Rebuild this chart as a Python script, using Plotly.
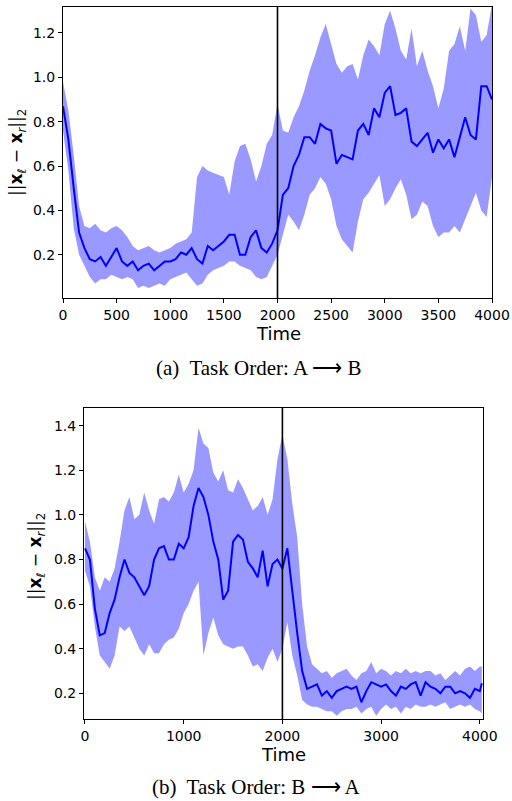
import plotly.graph_objects as go

# ---------------- data ----------------
t_a = list(range(0, 4001, 50))
mean_a = [0.87, 0.72, 0.50, 0.30, 0.23, 0.18, 0.17, 0.19, 0.15, 0.19,
          0.23, 0.17, 0.15, 0.17, 0.13, 0.15, 0.16, 0.13, 0.15, 0.17,
          0.17, 0.18, 0.21, 0.20, 0.23, 0.18, 0.16, 0.24, 0.22, 0.24,
          0.26, 0.29, 0.29, 0.20, 0.20, 0.28, 0.31, 0.23, 0.21, 0.25,
          0.31, 0.47, 0.50, 0.60, 0.65, 0.73, 0.73, 0.70, 0.79, 0.77,
          0.76, 0.61, 0.65, 0.64, 0.63, 0.76, 0.79, 0.74, 0.86, 0.82,
          0.93, 0.96, 0.83, 0.84, 0.86, 0.71, 0.69, 0.72, 0.75, 0.66,
          0.72, 0.68, 0.72, 0.64, 0.73, 0.82, 0.74, 0.72, 0.96, 0.96,
          0.90]
upper_a = [0.98, 0.85, 0.65, 0.42, 0.33, 0.32, 0.34, 0.31, 0.30, 0.32,
           0.33, 0.31, 0.28, 0.24, 0.22, 0.23, 0.24, 0.22, 0.21, 0.22,
           0.23, 0.25, 0.26, 0.27, 0.30, 0.55, 0.60, 0.58, 0.57, 0.56,
           0.55, 0.47, 0.62, 0.69, 0.70, 0.63, 0.53, 0.60, 0.70, 0.74,
           0.88, 0.76, 0.75, 0.82, 0.87, 0.94, 1.03, 1.10, 1.18, 1.24,
           1.15, 1.06, 1.02, 1.05, 1.06, 0.99, 1.10, 1.17, 1.14, 1.10,
           1.24, 1.30, 1.22, 1.12, 1.08, 1.22, 1.05, 1.12, 1.03, 0.96,
           0.86, 0.95, 1.12, 1.15, 1.23, 1.12, 1.31, 1.28, 1.16, 1.19,
           1.33]
lower_a = [0.76, 0.58, 0.32, 0.20, 0.15, 0.10, 0.07, 0.09, 0.09, 0.11,
           0.10, 0.09, 0.10, 0.09, 0.05, 0.06, 0.05, 0.06, 0.07, 0.06,
           0.09, 0.10, 0.11, 0.12, 0.09, 0.06, 0.07, 0.11, 0.13, 0.14,
           0.15, 0.17, 0.17, 0.15, 0.14, 0.13, 0.10, 0.09, 0.10, 0.15,
           0.20, 0.29, 0.38, 0.35, 0.31, 0.38, 0.47, 0.50, 0.55, 0.52,
           0.45, 0.33, 0.27, 0.24, 0.21, 0.35, 0.45, 0.48, 0.52, 0.56,
           0.42, 0.45, 0.50, 0.54, 0.47, 0.36, 0.38, 0.44, 0.42, 0.33,
           0.28, 0.30, 0.30, 0.33, 0.30, 0.36, 0.42, 0.48, 0.40, 0.37,
           0.55]

t_b = list(range(0, 4001, 50)) + [4020]
mean_b = [0.85, 0.80, 0.58, 0.46, 0.47, 0.56, 0.62, 0.72, 0.80, 0.74,
          0.72, 0.68, 0.64, 0.68, 0.80, 0.85, 0.86, 0.80, 0.80, 0.87,
          0.85, 0.90, 1.04, 1.12, 1.08, 1.00, 0.88, 0.80, 0.62, 0.66,
          0.88, 0.91, 0.89, 0.79, 0.76, 0.72, 0.84, 0.68, 0.78, 0.80,
          0.76, 0.85, 0.65, 0.47, 0.30, 0.22, 0.23, 0.24, 0.19, 0.21,
          0.18, 0.21, 0.22, 0.23, 0.22, 0.23, 0.16, 0.21, 0.25, 0.24,
          0.23, 0.24, 0.21, 0.19, 0.23, 0.22, 0.24, 0.25, 0.19, 0.25,
          0.23, 0.22, 0.20, 0.23, 0.23, 0.20, 0.21, 0.20, 0.18, 0.22,
          0.21, 0.245]
upper_b = [0.97, 0.88, 0.72, 0.66, 0.72, 0.70, 0.76, 0.88, 1.02, 1.08,
           0.98, 1.00, 1.10, 1.02, 0.96, 1.07, 1.08, 1.06, 1.10, 1.18,
           1.10, 1.14, 1.20, 1.39, 1.32, 1.30, 1.19, 1.15, 1.20, 1.11,
           1.10, 1.16, 1.12, 1.07, 1.02, 1.04, 1.08, 1.00, 1.07, 1.25,
           1.36, 1.25, 1.05, 0.90, 0.60, 0.41, 0.33, 0.31, 0.29, 0.30,
           0.27, 0.29, 0.30, 0.31, 0.28, 0.26, 0.29, 0.30, 0.34, 0.29,
           0.31, 0.30, 0.28, 0.30, 0.29, 0.31, 0.29, 0.30, 0.29, 0.30,
           0.30, 0.28, 0.29, 0.26, 0.28, 0.30, 0.28, 0.31, 0.32, 0.30,
           0.32, 0.32]
lower_b = [0.75, 0.68, 0.50, 0.37, 0.34, 0.31, 0.37, 0.50, 0.48, 0.50,
           0.45, 0.40, 0.37, 0.42, 0.38, 0.38, 0.42, 0.44, 0.45, 0.49,
           0.56, 0.60, 0.66, 0.70, 0.37, 0.47, 0.54, 0.46, 0.42, 0.41,
           0.40, 0.41, 0.41, 0.37, 0.32, 0.33, 0.30, 0.36, 0.40, 0.34,
           0.40, 0.52, 0.37, 0.28, 0.17, 0.15, 0.14, 0.14, 0.13, 0.12,
           0.12, 0.10, 0.12, 0.13, 0.13, 0.14, 0.11, 0.13, 0.14, 0.10,
           0.13, 0.15, 0.13, 0.14, 0.11, 0.14, 0.13, 0.15, 0.14, 0.14,
           0.15, 0.14, 0.15, 0.16, 0.13, 0.14, 0.15, 0.14, 0.15, 0.13,
           0.12, 0.11]

switch_time = 2000
ticks_a = [0, 500, 1000, 1500, 2000, 2500, 3000, 3500, 4000]
ticks_b = [0, 1000, 2000, 3000, 4000]
yticks_a = [0.2, 0.4, 0.6, 0.8, 1.0, 1.2]
yticks_b = [0.2, 0.4, 0.6, 0.8, 1.0, 1.2, 1.4]
ytitle = "||<b>x</b><sub>ℓ</sub> − <b>x</b><sub><i>r</i></sub>||<sub>2</sub>"
captions = ["(a)  Task Order: A ⟶ B", "(b)  Task Order: B ⟶ A"]

# ---------------- figure ----------------
W, H = 512, 801
BAND = "rgba(0,0,255,0.4)"
LINE = "#0000ff"
fig = go.Figure()

def add_panel(t, lo, hi, mu, xa, ya):
    fig.add_trace(go.Scatter(x=t, y=lo, mode="lines", line=dict(width=0),
                             hoverinfo="skip", showlegend=False, xaxis=xa, yaxis=ya))
    fig.add_trace(go.Scatter(x=t, y=hi, mode="lines", line=dict(width=0),
                             fill="tonexty", fillcolor=BAND,
                             hoverinfo="skip", showlegend=False, xaxis=xa, yaxis=ya))
    fig.add_trace(go.Scatter(x=t, y=mu, mode="lines", line=dict(color=LINE, width=2),
                             showlegend=False, xaxis=xa, yaxis=ya))

add_panel(t_a, lower_a, upper_a, mean_a, "x", "y")
add_panel(t_b, lower_b, upper_b, mean_b, "x2", "y2")

def px_x(p):
    return p / W

def px_y(p):
    return 1 - p / H

tickfont = dict(family="DejaVu Sans", size=14, color="black")
axis_common = dict(showgrid=False, zeroline=False, showline=True, linecolor="black",
                   linewidth=1, mirror=True, ticks="outside", ticklen=4,
                   tickcolor="black", tickwidth=1, tickfont=tickfont, automargin=False)

fig.update_layout(
    width=W, height=H, autosize=False, margin=dict(l=0, r=0, t=0, b=0, pad=0),
    paper_bgcolor="white", plot_bgcolor="white", showlegend=False,
    xaxis=dict(domain=[px_x(63), px_x(492)], range=[0, 4000], tickvals=ticks_a,
               anchor="y", **axis_common),
    yaxis=dict(domain=[px_y(298), px_y(7)], range=[0.005, 1.317], tickvals=yticks_a,
               tickformat=".1f", anchor="x", **axis_common),
    xaxis2=dict(domain=[px_x(84), px_x(483)], range=[-10, 4032], tickvals=ticks_b,
                anchor="y2", **axis_common),
    yaxis2=dict(domain=[px_y(719), px_y(408)], range=[0.085, 1.479], tickvals=yticks_b,
                tickformat=".1f", anchor="x2", **axis_common),
)

# switch markers
fig.add_shape(type="line", xref="x", yref="y domain", x0=switch_time, x1=switch_time,
              y0=0, y1=1, line=dict(color="black", width=1.6))
fig.add_shape(type="line", xref="x2", yref="y2 domain", x0=switch_time, x1=switch_time,
              y0=0, y1=1, line=dict(color="black", width=1.6))

labfont = dict(family="DejaVu Sans", size=18, color="black")
ylabfont = dict(family="DejaVu Sans", size=17, color="black")
capfont = dict(family="Liberation Serif, Times New Roman, serif", size=21, color="black")
ann = [
    dict(text="Time", x=px_x(278), y=px_y(333), font=labfont),
    dict(text="Time", x=px_x(283), y=px_y(754), font=labfont),
    dict(text=ytitle, x=px_x(17), y=px_y(153), font=ylabfont, textangle=-90),
    dict(text=ytitle, x=px_x(36), y=px_y(557), font=ylabfont, textangle=-90),
    dict(text=captions[0], x=px_x(258), y=px_y(368), font=capfont),
    dict(text=captions[1], x=px_x(256), y=px_y(787), font=capfont),
]
for a in ann:
    fig.add_annotation(xref="paper", yref="paper", showarrow=False,
                       xanchor="center", yanchor="middle", **a)

fig.write_html("out.html", config={"responsive": False, "displayModeBar": False},
               post_script="document.body.style.margin='0px';document.body.style.overflow='hidden';")
